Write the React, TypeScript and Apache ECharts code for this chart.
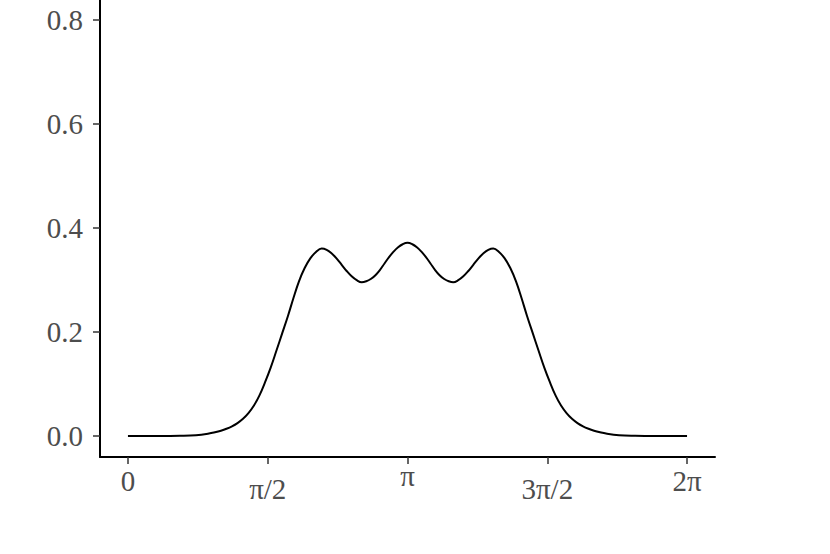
import React, { useEffect, useRef } from "react";
import * as echarts from "echarts";

const PI = Math.PI;

// curve (x in radians, y density); samples include the peaks and troughs
const xValues = [
  0, 0.36, 0.584, 0.764, 0.91, 0.978, 1.045, 1.107, 1.169, 1.231, 1.293, 1.354,
  1.416, 1.478, 1.54, 1.604, 1.669, 1.733, 1.798, 1.86, 1.922, 1.986, 2.051,
  2.113, 2.177, 2.233, 2.29, 2.346, 2.402, 2.458, 2.514, 2.571, 2.627, 2.678,
  2.729, 2.781, 2.831, 2.883, 2.934, 2.985, 3.036, 3.087, 3.1416, 3.196, 3.247,
  3.298, 3.349, 3.4, 3.452, 3.502, 3.554, 3.605, 3.656, 3.712, 3.769, 3.825,
  3.881, 3.937, 3.993, 4.05, 4.106, 4.17, 4.232, 4.297, 4.361, 4.423, 4.485,
  4.55, 4.614, 4.679, 4.743, 4.805, 4.867, 4.929, 4.99, 5.052, 5.114, 5.176,
  5.238, 5.305, 5.373, 5.519, 5.699, 5.923, 6.2832,
];
const yValues = [
  0, 0, 0.0004, 0.0015, 0.0046, 0.0071, 0.0102, 0.0139, 0.0186, 0.0248, 0.033,
  0.044, 0.0585, 0.078, 0.103, 0.1315, 0.1644, 0.1973, 0.2308, 0.2654, 0.2975,
  0.323, 0.342, 0.354, 0.3606, 0.3581, 0.351, 0.3412, 0.3292, 0.3173, 0.3071,
  0.2996, 0.2956, 0.2975, 0.3019, 0.3092, 0.3192, 0.3318, 0.344, 0.3545, 0.363,
  0.3688, 0.3715, 0.3688, 0.363, 0.3545, 0.344, 0.3318, 0.3192, 0.3092, 0.3019,
  0.2975, 0.2956, 0.2996, 0.3071, 0.3173, 0.3292, 0.3412, 0.351, 0.3581, 0.3606,
  0.354, 0.342, 0.323, 0.2975, 0.2654, 0.2308, 0.1973, 0.1644, 0.1315, 0.103,
  0.078, 0.0585, 0.044, 0.033, 0.0248, 0.0186, 0.0139, 0.0102, 0.0071, 0.0046,
  0.0015, 0.0004, 0, 0,
];

const xTickValues = [0, PI / 2, PI, (3 * PI) / 2, 2 * PI];
const xTickLabels = ["0", "π/2", "π", "3π/2", "2π"];
const xTickStyles = ["a", "b", "c", "b", "a"];
const yTickValues = [0, 0.2, 0.4, 0.6, 0.8];
const yTickLabels = ["0.0", "0.2", "0.4", "0.6", "0.8"];

export default function App() {
  const ref = useRef<HTMLDivElement>(null);
  useEffect(() => {
    if (!ref.current) return;
    const chart = echarts.init(ref.current, null, { renderer: "svg" });
    const font = "'Liberation Serif', 'DejaVu Serif', serif";
    const base = { color: "#4d4d4d", fontFamily: font, fontSize: 29 };
    chart.setOption({
      animation: false,
      backgroundColor: "#ffffff",
      grid: { left: 100, right: 115, top: 0, bottom: 97, containLabel: false },
      xAxis: {
        type: "value",
        min: -0.1 * PI,
        max: 2.1 * PI,
        splitLine: { show: false },
        axisLine: { show: true, onZero: false, lineStyle: { color: "#000", width: 2 } },
        axisTick: {
          show: true,
          length: 7,
          customValues: xTickValues,
          lineStyle: { color: "#333", width: 1.5 },
        },
        axisLabel: {
          customValues: xTickValues,
          margin: 4,
          ...base,
          verticalAlign: "top",
          rich: {
            a: { ...base, padding: [5, 0, 0, 0] },
            b: { ...base, padding: [13, 0, 0, 0] },
            c: { ...base, padding: [0, 0, 0, 0] },
          },
          formatter: (v: number) => {
            const i = xTickValues.findIndex((t) => Math.abs(t - v) < 1e-6);
            return i >= 0 ? `{${xTickStyles[i]}|${xTickLabels[i]}}` : "";
          },
        },
      },
      yAxis: {
        type: "value",
        min: -0.0404,
        max: 0.8385,
        splitLine: { show: false },
        axisLine: { show: true, onZero: false, lineStyle: { color: "#000", width: 2 } },
        axisTick: {
          show: true,
          length: 7,
          customValues: yTickValues,
          lineStyle: { color: "#333", width: 1.5 },
        },
        axisLabel: {
          customValues: yTickValues,
          margin: 17,
          ...base,
          formatter: (v: number) => {
            const i = yTickValues.findIndex((t) => Math.abs(t - v) < 1e-6);
            return i >= 0 ? yTickLabels[i] : "";
          },
        },
      },
      series: [
        {
          type: "line",
          data: xValues.map((x, i) => [x, yValues[i]]),
          smooth: 0.4,
          showSymbol: false,
          lineStyle: { color: "#000", width: 2 },
        },
      ],
    });
    return () => chart.dispose();
  }, []);
  return (
    <div
      ref={ref}
      style={{ position: "fixed", left: 0, top: 0, width: 830, height: 554 }}
    />
  );
}
